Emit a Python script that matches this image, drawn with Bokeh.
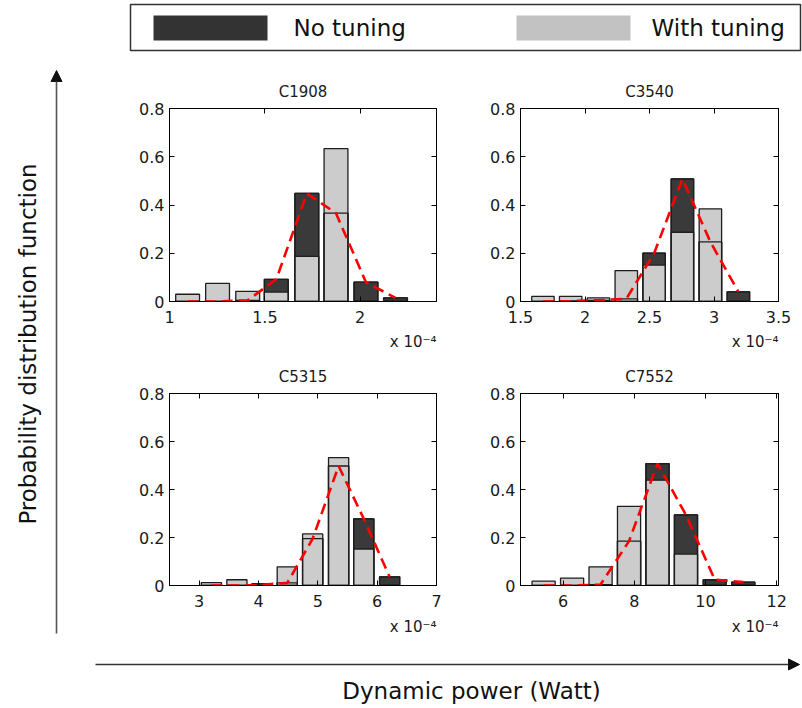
import numpy as np
from bokeh.plotting import figure
from bokeh.models import Range1d, FixedTicker, LinearAxis, Title, Arrow, NormalHead
from bokeh.layouts import row, column
from bokeh.embed import file_html
from bokeh.resources import INLINE
from bokeh.core.properties import value

# ---------------- data ----------------
legend_labels = ["No tuning", "With tuning"]
x_axis_label = "Dynamic power (Watt)"
y_axis_label = "Probability distribution function"
exponent_label = "x 10\u207b\u2074"

y_ticks = [0, 0.2, 0.4, 0.6, 0.8]
y_tick_labels = ["0", "0.2", "0.4", "0.6", "0.8"]

c1908_title = "C1908"
c1908_centers = [1.095, 1.252, 1.41, 1.56, 1.72, 1.873, 2.03, 2.185]
c1908_no_tuning = [0.0, 0.0, 0.005, 0.092, 0.448, 0.366, 0.08, 0.015]
c1908_with_tuning = [0.03, 0.075, 0.042, 0.039, 0.187, 0.634, 0.0, 0.0]
c1908_xticks = [1, 1.5, 2]
c1908_xtick_labels = ["1", "1.5", "2"]

c3540_title = "C3540"
c3540_centers = [1.674, 1.889, 2.105, 2.32, 2.536, 2.755, 2.972, 3.189]
c3540_no_tuning = [0.0, 0.002, 0.005, 0.011, 0.2, 0.508, 0.247, 0.04]
c3540_with_tuning = [0.021, 0.021, 0.015, 0.128, 0.151, 0.287, 0.384, 0.0]
c3540_xticks = [1.5, 2, 2.5, 3, 3.5]
c3540_xtick_labels = ["1.5", "2", "2.5", "3", "3.5"]

c5315_title = "C5315"
c5315_centers = [3.206, 3.636, 4.058, 4.485, 4.913, 5.35, 5.774, 6.21]
c5315_no_tuning = [0.0, 0.0, 0.003, 0.011, 0.195, 0.498, 0.278, 0.036]
c5315_with_tuning = [0.012, 0.024, 0.008, 0.078, 0.215, 0.533, 0.152, 0.0]
c5315_xticks = [3, 4, 5, 6, 7]
c5315_xtick_labels = ["3", "4", "5", "6", "7"]

c7552_title = "C7552"
c7552_centers = [5.45, 6.25, 7.05, 7.85, 8.65, 9.45, 10.26, 11.06]
c7552_no_tuning = [0.0, 0.0, 0.004, 0.185, 0.508, 0.294, 0.024, 0.014]
c7552_with_tuning = [0.018, 0.031, 0.078, 0.33, 0.439, 0.131, 0.0, 0.0]
c7552_xticks = [6, 8, 10, 12]
c7552_xtick_labels = ["6", "8", "10", "12"]

# ---------------- styles ----------------
DARK = "#3a3a3a"
LIGHT = "#cccccc"
EDGE = "#1e1e1e"
TICK_FONT = "DejaVu Sans"
BIG_FONT = "DejaVu Sans"
TEXT_COLOR = "#1a1a1a"


def style_axis(ax, show_labels, standoff):
    ax.major_tick_in = 5
    ax.major_tick_out = 0
    ax.minor_tick_line_color = None
    ax.axis_line_color = "black"
    ax.major_tick_line_color = "black"
    ax.major_label_text_font = TICK_FONT
    if show_labels:
        ax.major_label_text_font_size = "16px"
        ax.major_label_text_color = TEXT_COLOR
    else:
        ax.major_label_text_font_size = "0px"
        ax.major_label_text_color = None
    ax.major_label_standoff = standoff


def make_sub(title, centers, bar_w, dark, light, xr, xticks, xlabels,
             w, h, bl, br, bt, bb, title_standoff, exp_standoff):
    p = figure(width=w, height=h, x_range=Range1d(*xr), y_range=Range1d(0, 0.8),
               output_backend="svg", toolbar_location=None,
               min_border_left=bl, min_border_right=br,
               min_border_top=bt, min_border_bottom=bb)
    p.grid.visible = False
    p.outline_line_color = "black"

    p.vbar(x=centers, width=bar_w, top=dark, bottom=0,
           fill_color=DARK, line_color=EDGE, line_width=1.3)
    p.vbar(x=centers, width=bar_w, top=light, bottom=0,
           fill_color=LIGHT, line_color=EDGE, line_width=1.3)
    p.vbar(x=centers, width=bar_w, top=dark, bottom=0,
           fill_color=None, line_color=EDGE, line_width=1.3)
    p.line(x=centers, y=dark, line_color="#ff0000", line_width=2.6, line_dash="11 6")

    xa = p.xaxis[0]
    xa.ticker = FixedTicker(ticks=xticks)
    xa.major_label_overrides = dict(zip(xticks, xlabels))
    style_axis(xa, True, 9)
    ya = p.yaxis[0]
    ya.ticker = FixedTicker(ticks=y_ticks)
    ya.major_label_overrides = dict(zip(y_ticks, y_tick_labels))
    style_axis(ya, True, 5)

    top = LinearAxis(ticker=FixedTicker(ticks=xticks))
    style_axis(top, False, 0)
    p.add_layout(top, "above")
    right = LinearAxis(ticker=FixedTicker(ticks=y_ticks))
    style_axis(right, False, 0)
    p.add_layout(right, "right")

    p.add_layout(Title(text=title, align="center", text_font=TICK_FONT,
                       text_font_size="15px", text_font_style="normal",
                       text_color=TEXT_COLOR, standoff=title_standoff), "above")
    p.add_layout(Title(text=exponent_label, align="right", text_font=TICK_FONT,
                       text_font_size="15px", text_font_style="normal",
                       text_color=TEXT_COLOR, standoff=exp_standoff), "below")
    return p


def helper(w, h, x0, x1, y0, y1):
    p = figure(width=w, height=h, x_range=Range1d(x0, x1), y_range=Range1d(y1, y0),
               output_backend="svg", toolbar_location=None,
               x_axis_location=None, y_axis_location=None, min_border=0)
    p.grid.visible = False
    p.outline_line_color = None
    return p


# ---------------- subplots ----------------
p1 = make_sub(c1908_title, c1908_centers, 0.125, c1908_no_tuning, c1908_with_tuning,
              (1, 2.4), c1908_xticks, c1908_xtick_labels, 340, 300, 38, 34, 50, 57, 16, 11)
p2 = make_sub(c3540_title, c3540_centers, 0.174, c3540_no_tuning, c3540_with_tuning,
              (1.5, 3.5), c3540_xticks, c3540_xtick_labels, 332, 300, 50, 14, 50, 57, 16, 11)
p3 = make_sub(c5315_title, c5315_centers, 0.34, c5315_no_tuning, c5315_with_tuning,
              (2.5, 7), c5315_xticks, c5315_xtick_labels, 340, 287, 39, 34, 35, 60, 15, 13)
p4 = make_sub(c7552_title, c7552_centers, 0.65, c7552_no_tuning, c7552_with_tuning,
              (4.8, 12.05), c7552_xticks, c7552_xtick_labels, 332, 287, 50, 24, 35, 60, 15, 13)

# ---------------- legend strip ----------------
leg = helper(802, 58, 0, 802, 0, 58)
leg.quad(left=130, right=800, top=4, bottom=50, fill_color="white",
         line_color="#333333", line_width=1.5)
leg.quad(left=153, right=267, top=15, bottom=40, fill_color="#333333", line_color=None)
leg.quad(left=516, right=630, top=15, bottom=40, fill_color="#c2c2c2", line_color=None)
leg.text(x=[293, 651], y=[27, 27], text=legend_labels, text_baseline="middle",
         text_align="left", text_font=value(BIG_FONT), text_font_size="23px",
         text_color="#111111")

# ---------------- left strip (y label + arrow) ----------------
left = helper(130, 587, 0, 130, 58, 645)
left.add_layout(Arrow(end=NormalHead(size=11, fill_color="#111111", line_color="#111111"),
                      x_start=56, y_start=633, x_end=56, y_end=70,
                      line_color="#555555", line_width=1.6))
left.text(x=[27], y=[343.5], text=[y_axis_label], angle=np.pi / 2,
          text_baseline="middle", text_align="center",
          text_font=value(BIG_FONT), text_font_size="23px", text_color="#111111")

# ---------------- bottom strip (x label + arrow) ----------------
bot = helper(802, 63, 0, 802, 645, 708)
bot.add_layout(Arrow(end=NormalHead(size=11, fill_color="#111111", line_color="#111111"),
                     x_start=95, y_start=664, x_end=799, y_end=664,
                     line_color="#333333", line_width=1.6))
bot.text(x=[471], y=[690], text=[x_axis_label], text_baseline="middle",
         text_align="center", text_font=value(BIG_FONT), text_font_size="23px",
         text_color="#111111")

layout = column(leg, row(left, column(p1, p3), column(p2, p4)), bot)

open("out.html", "w").write(file_html(layout, INLINE))
